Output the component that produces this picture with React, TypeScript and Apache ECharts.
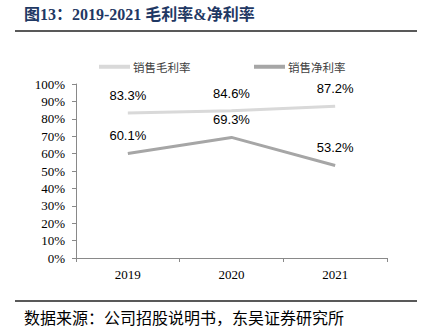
import React, { useEffect, useRef } from "react";
import * as echarts from "echarts";

const categories = ["2019", "2020", "2021"];
const grossMargin = [0.833, 0.846, 0.872];
const netMargin = [0.601, 0.693, 0.532];
const seriesNames = ["销售毛利率", "销售净利率"];
const titleText = "图13：2019-2021 毛利率&净利率";
const sourceText = "数据来源：公司招股说明书，东吴证券研究所";

export default function App() {
  const ref = useRef<HTMLDivElement>(null);
  useEffect(() => {
    if (!ref.current) return;
    const chart = echarts.init(ref.current, null, { renderer: "svg" });
    const serif = "Liberation Serif";
    const cjk = "'Liberation Serif', 'Noto Sans CJK SC', serif";
    const labelStyle = {
      show: true,
      position: "top" as const,
      distance: 11,
      fontFamily: "'Liberation Sans', Arial, sans-serif",
      fontSize: 13,
      color: "#000",
      formatter: (p: any) => (p.value * 100).toFixed(1) + "%",
    };
    const legendText = { fontFamily: "'Noto Sans CJK SC', sans-serif", fontSize: 11.5, color: "#404040", padding: [0, 0, 0, -2] };
    chart.setOption({
      animation: false,
      backgroundColor: "#fff",
      grid: { left: 76, right: 39, top: 84, bottom: 74 },
      legend: [
        {
          data: [{ name: seriesNames[0], itemStyle: { color: "#d9d9d9" } }],
          left: 94,
          top: 56,
          icon: "rect",
          itemWidth: 31,
          itemHeight: 4,
          textStyle: legendText,
        },
        {
          data: [{ name: seriesNames[1], itemStyle: { color: "#a6a6a6" } }],
          left: 249,
          top: 56,
          icon: "rect",
          itemWidth: 31,
          itemHeight: 4,
          textStyle: legendText,
        },
      ],
      xAxis: {
        type: "category",
        data: categories,
        boundaryGap: true,
        axisLine: { lineStyle: { color: "#898989", width: 1 } },
        axisTick: { show: true, length: 4, inside: false, lineStyle: { color: "#898989" } },
        axisLabel: { fontFamily: serif, fontSize: 13, color: "#000", margin: 10 },
      },
      yAxis: {
        type: "value",
        min: 0,
        max: 1,
        interval: 0.1,
        splitLine: { show: false },
        axisLine: { show: true, lineStyle: { color: "#898989", width: 1 } },
        axisTick: { show: true, length: 4, lineStyle: { color: "#898989" } },
        axisLabel: {
          fontFamily: serif,
          fontSize: 13,
          color: "#000",
          margin: 11,
          formatter: (v: number) => Math.round(v * 100) + "%",
        },
      },
      series: [
        {
          name: seriesNames[0],
          type: "line",
          data: grossMargin,
          symbol: "circle",
          symbolSize: 0,
          showSymbol: true,
          itemStyle: { color: "#d9d9d9" },
          lineStyle: { color: "#d9d9d9", width: 3 },
          label: labelStyle,
        },
        {
          name: seriesNames[1],
          type: "line",
          data: netMargin,
          symbol: "circle",
          symbolSize: 0,
          showSymbol: true,
          itemStyle: { color: "#a6a6a6" },
          lineStyle: { color: "#a6a6a6", width: 3 },
          label: labelStyle,
        },
      ],
      graphic: [
        {
          type: "text",
          left: 24,
          top: 6,
          style: {
            text: titleText,
            fontFamily: cjk,
            fontWeight: "bold",
            fontSize: 16,
            fill: "#1f3864",
          },
        },
        {
          type: "line",
          shape: { x1: 15, y1: 31, x2: 417, y2: 31 },
          style: { stroke: "#222", lineWidth: 1.5 },
        },
        {
          type: "line",
          shape: { x1: 15, y1: 301, x2: 417, y2: 301 },
          style: { stroke: "#222", lineWidth: 1.5 },
        },
        {
          type: "text",
          left: 24,
          top: 309,
          style: {
            text: sourceText,
            fontFamily: "'Noto Sans CJK SC', serif",
            fontSize: 16,
            fill: "#000",
          },
        },
      ],
    });
    return () => chart.dispose();
  }, []);
  return (
    <div
      ref={ref}
      style={{ position: "absolute", left: 0, top: 0, width: 426, height: 332 }}
    />
  );
}
